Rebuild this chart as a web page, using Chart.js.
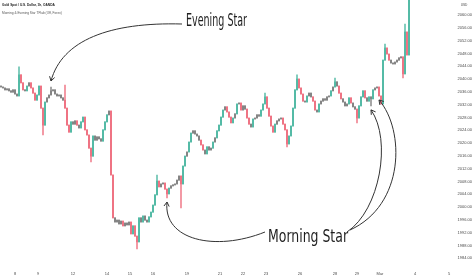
<!DOCTYPE html>
<html>
<head>
<meta charset="utf-8">
<script src="https://cdn.jsdelivr.net/npm/chart.js@4.4.1/dist/chart.umd.min.js"></script>
<style>
html,body{margin:0;padding:0;background:#fff;}
#wrap{width:474px;height:279px;position:relative;}
</style>
</head>
<body>
<div id="wrap"><canvas id="c"></canvas></div>
<script>
// ---- data (XAUUSD, 1h) ----
const title = 'Gold Spot / U.S. Dollar, 1h, OANDA';
const subtitle = 'Morning & Evening Star TFlab (Off, Forex)';
const currency = 'USD';
const firstOpen = 2037.8;
const closes = [
  2037.5, 2037.2, 2036.6, 2036.9, 2036.3, 2035.9, 2036.6, 2035.3, 2034.7, 2041.3,
  2038.8, 2036.6, 2036.3, 2037.8, 2038.8, 2037.2, 2035.6, 2033.4, 2035.0, 2037.8,
  2030.9, 2025.6, 2032.8, 2034.1, 2035.0, 2036.3, 2036.6, 2035.3, 2034.7, 2035.0,
  2034.1, 2033.4, 2030.9, 2025.6, 2023.4, 2026.6, 2025.9, 2026.9, 2025.6, 2024.7,
  2026.6, 2028.1, 2024.1, 2022.5, 2018.4, 2015.9, 2022.2, 2020.9, 2021.9, 2021.3,
  2020.6, 2024.1, 2026.6, 2028.8, 2030.0, 2010.0, 1996.6, 1995.3, 1995.9, 1994.7,
  1995.6, 1994.1, 1995.0, 1994.4, 1995.3, 1991.6, 1994.1, 1990.9, 1989.1, 1996.6,
  1995.3, 1997.2, 1995.9, 1995.3, 1996.9, 1998.4, 2000.6, 2003.8, 2008.1, 2006.3,
  2007.2, 2007.5, 2005.6, 2004.1, 2005.9, 2006.6, 2006.9, 2007.2, 2008.4, 2009.7,
  2007.2, 2012.8, 2015.9, 2017.2, 2020.3, 2023.1, 2023.8, 2022.8, 2022.2, 2020.9,
  2019.4, 2017.8, 2016.6, 2018.8, 2017.8, 2018.4, 2020.3, 2021.6, 2023.8, 2025.6,
  2028.1, 2030.3, 2031.3, 2029.7, 2028.1, 2026.3, 2027.8, 2029.1, 2032.2, 2032.5,
  2030.3, 2031.6, 2030.6, 2027.8, 2025.9, 2025.0, 2027.5, 2027.8, 2028.8, 2028.4,
  2030.3, 2032.2, 2034.4, 2030.9, 2028.4, 2025.3, 2023.4, 2025.9, 2026.9, 2027.5,
  2027.8, 2025.9, 2024.1, 2019.7, 2022.2, 2025.3, 2030.9, 2036.6, 2040.0, 2037.2,
  2035.3, 2033.1, 2032.8, 2034.7, 2035.6, 2034.4, 2033.1, 2030.3, 2029.7, 2032.2,
  2033.1, 2033.8, 2033.4, 2034.4, 2034.7, 2036.3, 2037.5, 2039.1, 2037.8, 2035.6,
  2033.8, 2032.8, 2031.6, 2032.2, 2034.1, 2032.5, 2031.3, 2030.6, 2027.8, 2031.6,
  2034.4, 2036.3, 2034.1, 2033.1, 2034.4, 2033.8, 2036.6, 2037.2, 2037.5, 2034.7,
  2032.2, 2045.9, 2049.7, 2047.8, 2045.9, 2045.0, 2044.7, 2045.3, 2045.9, 2046.6,
  2046.9, 2041.6, 2054.7, 2047.5, 2071.0
];
// long wicks (bar index, high, low); other bars have no visible wick
const spikeIdx  = [9,      21,     25,     32,     45,     68,     78,     83,     90,     132,    143,    148,    167,    178,    185,    192,    201,    202,    204];
const spikeHigh = [2043.8, null,   2037.5, 2038.1, null,   null,   2010.0, null,   null,   2035.6, null,   2041.3, 2040.3, null,   null,   2050.9, null,   2057.2, 2072.0];
const spikeLow  = [null,   2022.5, null,   null,   2014.1, 1986.9, null,   2002.8, 1999.7, null,   2018.8, null,   null,   2026.3, 2031.6, null,   2040.3, null,   null];
// time axis labels (bar position of each day start)
const dayTickIdx = [7, 18.5, 36, 53, 64.5, 76, 93, 109.5, 121, 132.5, 149.5, 167, 178, 189.5, 207, 224];
const dayTickLabels = ['8','9','12','14','15','16','19','21','22','23','26','28','29','Mar','4','5'];
const priceTicks = [2060,2056,2052,2048,2044,2040,2036,2032,2028,2024,2020,2016,2012,2008,2004,2000,1996,1992,1988,1984];
// pattern annotations
const eveningStarIdx = [25];
const morningStarIdx = [83, 185, 189];
const eveningLabel = 'Evening Star';
const morningLabel = 'Morning Star';

// ---- derived candle table ----
const UP = '#55bba6', DOWN = '#ef7484', NEUTRAL = '#858585';
const opens = closes.map((c, i) => i === 0 ? firstOpen : closes[i - 1]);
const highs = closes.map((c, i) => Math.max(c, opens[i]));
const lows = closes.map((c, i) => Math.min(c, opens[i]));
spikeIdx.forEach((k, j) => {
  if (spikeHigh[j] != null) highs[k] = spikeHigh[j];
  if (spikeLow[j] != null) lows[k] = spikeLow[j];
});
const colors = closes.map((c, i) => Math.abs(c - opens[i]) < 1.3 ? NEUTRAL : (c >= opens[i] ? UP : DOWN));

const FONT = '"Liberation Sans", Arial, sans-serif';
const NARROW = '"Liberation Sans Narrow", "DejaVu Sans Condensed", "Liberation Sans", sans-serif';

function fitText(ctx, text, cx, cy, w, size) {
  ctx.save();
  ctx.font = size + 'px ' + NARROW;
  const m = ctx.measureText(text).width;
  ctx.translate(cx, cy);
  ctx.scale(w / m, 1);
  ctx.textAlign = 'center';
  ctx.textBaseline = 'middle';
  ctx.fillStyle = '#1e1e1e';
  ctx.fillText(text, 0, 0);
  ctx.restore();
}
function curveArrow(ctx, p0, p1, p2, p3) {
  ctx.beginPath();
  ctx.moveTo(p0[0], p0[1]);
  ctx.bezierCurveTo(p1[0], p1[1], p2[0], p2[1], p3[0], p3[1]);
  ctx.stroke();
  const ang = Math.atan2(p3[1] - p2[1], p3[0] - p2[0]);
  const L = 5;
  ctx.beginPath();
  ctx.moveTo(p3[0] - L * Math.cos(ang - 0.55), p3[1] - L * Math.sin(ang - 0.55));
  ctx.lineTo(p3[0], p3[1]);
  ctx.lineTo(p3[0] - L * Math.cos(ang + 0.55), p3[1] - L * Math.sin(ang + 0.55));
  ctx.stroke();
}

const overlay = {
  id: 'overlay',
  afterDraw(chart) {
    const { ctx } = chart;
    const xs = chart.scales.x, ys = chart.scales.y;
    ctx.save();
    // price scale labels
    ctx.font = '4px ' + FONT;
    ctx.fillStyle = '#4a4a4a';
    ctx.textAlign = 'right';
    ctx.textBaseline = 'middle';
    priceTicks.forEach(v => ctx.fillText(v.toFixed(2), 472, ys.getPixelForValue(v)));
    ctx.textAlign = 'center';
    ctx.font = '3.2px ' + FONT;
    ctx.fillText(currency, 464, 5);
    // header
    ctx.textAlign = 'left';
    ctx.font = 'bold 3.2px ' + FONT;
    ctx.fillStyle = '#222';
    ctx.fillText(title, 2, 5);
    ctx.font = '3.2px ' + FONT;
    ctx.fillStyle = '#555';
    ctx.fillText(subtitle, 2, 13);
    // labels
    fitText(ctx, eveningLabel, 216.5, 22, 61, 17);
    fitText(ctx, morningLabel, 308, 238, 80, 17);
    // arrows
    ctx.strokeStyle = '#333';
    ctx.lineWidth = 1;
    const e = eveningStarIdx[0];
    const eTip = [xs.getPixelForValue(e), ys.getPixelForValue(highs[e]) - 6];
    curveArrow(ctx, [182, 24], [110, 22], [62, 40], eTip);
    const m0 = morningStarIdx[0], m1 = morningStarIdx[1], m2 = morningStarIdx[2];
    curveArrow(ctx, [265, 232], [215, 252], [163, 240], [xs.getPixelForValue(m0), ys.getPixelForValue(lows[m0]) + 4]);
    curveArrow(ctx, [347, 232], [380, 210], [392, 140], [xs.getPixelForValue(m1), ys.getPixelForValue(lows[m1]) + 4]);
    curveArrow(ctx, [350, 230], [405, 205], [405, 130], [xs.getPixelForValue(m2), ys.getPixelForValue(lows[m2]) + 4]);
    ctx.restore();
  }
};

const idx = closes.map((_, i) => i);
new Chart(document.getElementById('c'), {
  type: 'bar',
  data: {
    datasets: [
      {
        data: idx.map(i => ({ x: i, y: [lows[i], highs[i]] })),
        backgroundColor: colors, barThickness: 0.8, grouped: false, borderWidth: 0, minBarLength: 0
      },
      {
        data: idx.map(i => ({ x: i, y: [opens[i], closes[i]] })),
        backgroundColor: colors, barThickness: 1.4, grouped: false, borderWidth: 0, minBarLength: 1
      }
    ]
  },
  options: {
    responsive: true,
    maintainAspectRatio: false,
    devicePixelRatio: 1,
    animation: false,
    events: [],
    layout: { padding: 0 },
    plugins: { legend: { display: false }, tooltip: { enabled: false } },
    scales: {
      x: {
        type: 'linear', min: -0.5, max: 236.5, offset: false,
        grid: { display: false, drawTicks: false },
        border: { display: false },
        afterBuildTicks: s => { s.ticks = dayTickIdx.map(v => ({ value: v })); },
        afterFit: s => { s.height = 15; },
        ticks: {
          autoSkip: false, maxRotation: 0, padding: 7,
          font: { size: 4, family: FONT }, color: '#4a4a4a',
          callback: (v, i) => dayTickLabels[i]
        }
      },
      y: { type: 'linear', display: false, min: 1982.1875, max: 2064.6875 }
    }
  },
  plugins: [overlay]
});
</script>
</body>
</html>
